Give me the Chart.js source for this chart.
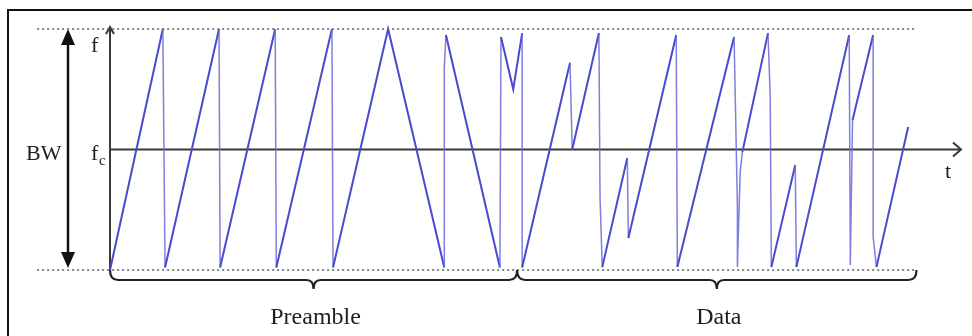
<!DOCTYPE html>
<html>
<head>
<meta charset="utf-8">
<script src="https://cdn.jsdelivr.net/npm/chart.js@4.4.1/dist/chart.umd.min.js"></script>
<style>
	html, body { margin: 0; padding: 0; background: #fff; }
	canvas { display: block; }
</style>
</head>
<body>
<canvas id="chirp-chart" width="972" height="336"></canvas>
<script>
// time in symbol periods, frequency as a fraction of BW around fc
const preambleT = [0, 0.95, 0.99, 1.96, 1.98, 2.97, 2.99, 3.99, 4.01, 5.00, 6.01, 6.01, 6.04, 7.01, 7.03, 7.25, 7.41];
const preambleF = [-0.5, 0.5, -0.49, 0.5, -0.49, 0.5, -0.49, 0.5, -0.49, 0.5, -0.49, 0.34, 0.475, -0.49, 0.467, 0.25, 0.483];

const dataT = [7.41, 8.27, 8.31, 8.79, 8.81, 8.85, 9.30, 9.32, 10.18, 10.20, 11.22, 11.28, 11.28, 11.33, 11.37, 11.83, 11.87, 11.89, 12.32, 12.34, 13.29, 13.31, 13.35, 13.72, 13.72, 13.78, 14.35];
const dataF = [-0.49, 0.36, 0.0, 0.483, -0.197, -0.488, -0.035, -0.367, 0.475, -0.488, 0.467, -0.239, -0.488, -0.093, -0.01, 0.483, 0.218, -0.488, -0.064, -0.488, 0.475, -0.479, 0.122, 0.475, -0.363, -0.488, 0.093];

const bandEdges = [-0.5, 0.5];
const guideSpan = [-1.31, 14.51];
const sectionBounds = [0, 7.32, 14.5];
const sectionLabels = ['Preamble', 'Data'];

const chirpPoints = preambleT.concat(dataT).map((t, i) => ({
	x: t,
	y: preambleF.concat(dataF)[i]
}));

function guideLine(f) {
	return {
		data: guideSpan.map(t => ({ x: t, y: f })),
		borderColor: '#5e5e5e',
		borderWidth: 1.5,
		borderDash: [2, 3],
		pointRadius: 0,
		clip: false
	};
}

function drawBrace(ctx, x1, x2, y0) {
	const mid = (x1 + x2) / 2;
	ctx.beginPath();
	ctx.moveTo(x1, y0 - 10);
	ctx.quadraticCurveTo(x1, y0, x1 + 8, y0);
	ctx.lineTo(mid - 7, y0);
	ctx.quadraticCurveTo(mid, y0, mid, y0 + 9);
	ctx.quadraticCurveTo(mid, y0, mid + 7, y0);
	ctx.lineTo(x2 - 8, y0);
	ctx.quadraticCurveTo(x2, y0, x2, y0 - 10);
	ctx.stroke();
}

const figureDecor = {
	id: 'figureDecor',
	beforeDatasetsDraw(chart) {
		const ctx = chart.ctx;
		const area = chart.chartArea;
		const xs = chart.scales.x;
		const ys = chart.scales.y;

		const x0 = xs.getPixelForValue(0);
		const yTop = ys.getPixelForValue(0.5);
		const yBot = ys.getPixelForValue(-0.5);
		const yMid = ys.getPixelForValue(0);

		ctx.save();

		// outer frame
		ctx.strokeStyle = '#111';
		ctx.lineWidth = 2;
		ctx.beginPath();
		ctx.moveTo(8, 336);
		ctx.lineTo(8, 10);
		ctx.lineTo(972, 10);
		ctx.stroke();

		// frequency axis
		ctx.strokeStyle = '#383838';
		ctx.lineWidth = 2;
		ctx.beginPath();
		ctx.moveTo(x0, yBot);
		ctx.lineTo(x0, yTop - 2);
		ctx.stroke();
		ctx.beginPath();
		ctx.moveTo(x0 - 4, yTop + 5);
		ctx.lineTo(x0, yTop - 2);
		ctx.lineTo(x0 + 4, yTop + 5);
		ctx.stroke();

		// time axis through fc
		ctx.beginPath();
		ctx.moveTo(x0, yMid);
		ctx.lineTo(area.right, yMid);
		ctx.stroke();
		ctx.beginPath();
		ctx.moveTo(area.right - 8, yMid - 7);
		ctx.lineTo(area.right, yMid);
		ctx.lineTo(area.right - 8, yMid + 7);
		ctx.stroke();

		// bandwidth arrow
		const bx = x0 - 42;
		ctx.strokeStyle = '#111';
		ctx.fillStyle = '#111';
		ctx.lineWidth = 2.5;
		ctx.beginPath();
		ctx.moveTo(bx, yTop + 10);
		ctx.lineTo(bx, yBot - 10);
		ctx.stroke();
		ctx.beginPath();
		ctx.moveTo(bx, yTop);
		ctx.lineTo(bx - 7, yTop + 16);
		ctx.lineTo(bx + 7, yTop + 16);
		ctx.closePath();
		ctx.fill();
		ctx.beginPath();
		ctx.moveTo(bx, yBot - 2);
		ctx.lineTo(bx - 7, yBot - 18);
		ctx.lineTo(bx + 7, yBot - 18);
		ctx.closePath();
		ctx.fill();

		ctx.restore();
	},
	afterDatasetsDraw(chart) {
		const ctx = chart.ctx;
		const area = chart.chartArea;
		const xs = chart.scales.x;
		const ys = chart.scales.y;

		const x0 = xs.getPixelForValue(0);
		const yTop = ys.getPixelForValue(0.5);
		const yBot = ys.getPixelForValue(-0.5);
		const yMid = ys.getPixelForValue(0);

		ctx.save();

		// section braces
		ctx.strokeStyle = '#222';
		ctx.lineWidth = 2.2;
		for (let i = 0; i < sectionLabels.length; i++) {
			drawBrace(ctx, xs.getPixelForValue(sectionBounds[i]), xs.getPixelForValue(sectionBounds[i + 1]), yBot + 10);
		}

		ctx.fillStyle = '#1e1e1e';
		ctx.textBaseline = 'alphabetic';
		ctx.font = '24px "Liberation Serif"';
		ctx.textAlign = 'center';
		for (let i = 0; i < sectionLabels.length; i++) {
			const cx = (xs.getPixelForValue(sectionBounds[i]) + xs.getPixelForValue(sectionBounds[i + 1])) / 2;
			ctx.fillText(sectionLabels[i], cx + 2, yBot + 54);
		}

		ctx.textAlign = 'left';
		ctx.font = '22px "Liberation Serif"';
		ctx.fillText('BW', 26, yMid + 10);
		ctx.fillText('f', x0 - 19, yTop + 23);
		ctx.fillText('f', x0 - 19, yMid + 10);
		ctx.fillText('t', area.right - 16, yMid + 28);
		ctx.font = '15px "Liberation Serif"';
		ctx.fillText('c', x0 - 11, yMid + 15);

		ctx.restore();
	}
};

new Chart(document.getElementById('chirp-chart'), {
	type: 'line',
	data: {
		datasets: [
			guideLine(bandEdges[1]),
			guideLine(bandEdges[0]),
			{
				data: chirpPoints,
				borderColor: '#4a4acc',
				borderWidth: 2,
				pointRadius: 0,
				tension: 0,
				clip: false,
				segment: {
					// the near-vertical jumps are drawn lighter and thinner than the sweeps
					borderColor: ctx => Math.abs(ctx.p1.x - ctx.p0.x) < 4 ? 'rgba(105, 105, 220, 0.85)' : undefined,
					borderWidth: ctx => Math.abs(ctx.p1.x - ctx.p0.x) < 4 ? 1.5 : undefined
				}
			}
		]
	},
	options: {
		responsive: false,
		animation: false,
		events: [],
		layout: {
			padding: { left: 110, right: 11, top: 29, bottom: 66 }
		},
		scales: {
			x: { type: 'linear', min: 0, max: 15.3, display: false },
			y: { min: -0.5, max: 0.5, display: false }
		},
		plugins: {
			legend: { display: false },
			tooltip: { enabled: false }
		}
	},
	plugins: [figureDecor]
});
</script>
</body>
</html>
